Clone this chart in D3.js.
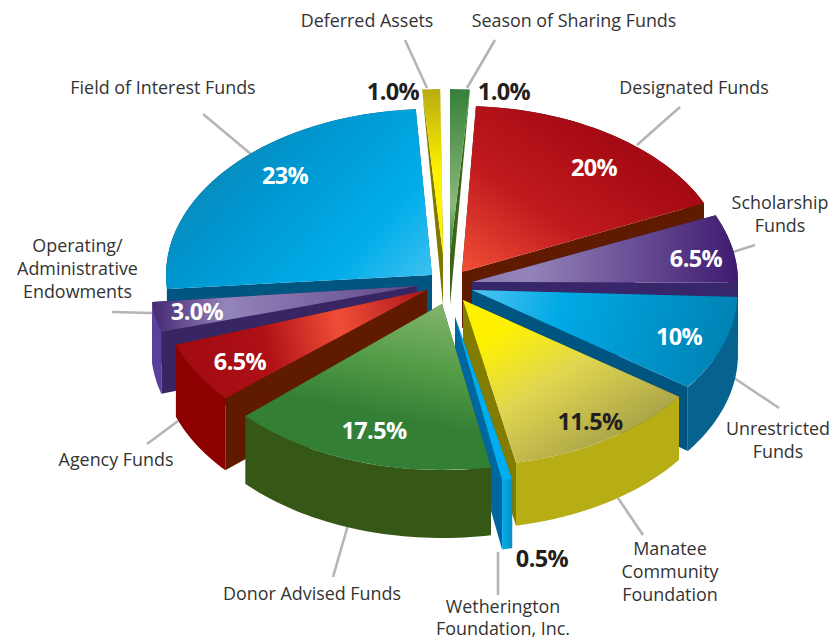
<!DOCTYPE html>
<html><head><meta charset="utf-8">
<style>html,body{margin:0;padding:0;background:#fff}svg{display:block}</style>
<script src="https://cdn.jsdelivr.net/npm/d3@7"></script>
</head><body>
<svg id="c" width="834" height="639"></svg>
<script>
// ---- data ----
const categories = ["Designated Funds","Scholarship Funds","Unrestricted Funds","Manatee Community Foundation","Wetherington Foundation, Inc.","Donor Advised Funds","Agency Funds","Operating/Administrative Endowments","Field of Interest Funds","Deferred Assets","Season of Sharing Funds"];
const values = [20,6.5,10,11.5,0.5,17.5,6.5,3,23,1,1];
const valueLabels = ["20%","6.5%","10%","11.5%","0.5%","17.5%","6.5%","3.0%","23%","1.0%","1.0%"];
const labelLines = [["Designated Funds"],["Scholarship","Funds"],["Unrestricted","Funds"],["Manatee","Community","Foundation"],["Wetherington","Foundation, Inc."],["Donor Advised Funds"],["Agency Funds"],["Operating/","Administrative","Endowments"],["Field of Interest Funds"],["Deferred Assets"],["Season of Sharing Funds"]];

// ---- layout (not data) ----
const W = 834, H = 639;
const rx = 266, ry = 166;
const apexX = [462,472,472,463,455,442,427,417,432,443,450];
const apexY = [272,282,290,300,317,304,290,286,275,255,255];
const wallDepth = [66,66,64,63,69,68,72,62,66,66,66];
// drawn (perspective-warped) sector limits, degrees clockwise from the top
const viewStartDeg = [3,66.3,92.4,125.7,167.6,169.4,229.3,254,265.2,355.5,360];
const viewEndDeg = [65.4,90.3,125.8,168.5,169.8,227.6,250.7,264.5,356.5,359.4,364.3];
const topGrad = [
 [0,1,.7,.3,[[0,"#f34f36"],[.5,"#c01a1e"],[1,"#a60a13"]]],
 [0,0,1,0,[[0,"#8b7cb2"],[.22,"#9383b9"],[1,"#3f1a70"]]],
 [0,0,1,.1,[[0,"#4ec4f0"],[.35,"#00a9e5"],[1,"#0083b5"]]],
 [.05,0,.75,.85,[[0,"#fff200"],[.2,"#fff200"],[.55,"#e0d650"],[1,"#aaa348"]]],
 [0,0,1,0,[[0,"#00aeef"],[1,"#00aeef"]]],
 [.95,0,.7,.85,[[0,"#88b870"],[.5,"#529b45"],[.85,"#337f36"],[1,"#337f36"]]],
 [0,.5,1,.4,[[0,"#a30a12"],[.35,"#ae1016"],[.66,"#f04e37"],[1,"#b31a1c"]]],
 [0,0,1,0,[[0,"#452872"],[.28,"#9384ba"],[1,"#5f4889"]]],
 [1,1,0,.35,[[0,"#46c3f2"],[.3,"#00ade9"],[.7,"#0096d0"],[1,"#0d85b0"]]],
 [0,0,0,1,[[0,"#b8ab10"],[.5,"#fff200"],[1,"#fff200"]]],
 [0,0,0,1,[[0,"#35803a"],[.7,"#8ab87a"],[1,"#2d7a3f"]]]
];
const faceColor = ["#5f1a00","#37266a","#005580","#827c00","#0067a0","#355816","#601a00","#372663","#005680","#7e7a00","#3c6516"];
const wallColor = ["#5f1a00","#37266a","#06638f","#b6ae14","#00a5e2","#355816","#8d0000","#5a3f9e","#005680","#7e7a00","#3c6516"];
const paintOrder = [9,10,8,0,1,2,7,6,3,4,5];
const labelPos = [[694,94],[780,209],[778,435],[670,555],[503,613],[312,600],[116,466],[77.5,252],[163,94],[367,27],[574,27]];
const lineGap = [23,23,23,23,22.4,23,23,23,23,23,23];
const valuePos = [[594,176],[696,267],[679,345],[590,430],[542,567],[374,439],[240,370],[197,320],[285,184],[393,100],[504,100]];
const valueColor = ["#fff","#fff","#fff","#231f20","#231f20","#fff","#fff","#fff","#fff","#231f20","#231f20"];
const leaders = [[[680,107],[637,145]],[[755,245],[733,252]],[[734,378],[779,408]],[[618,498],[643,535]],[[498,552],[498,595]],[[348,525],[333,577]],[[178,421],[147,444]],[[112,312],[152,313]],[[203,114],[252,155]],[[405,40],[427,88]],[[495,40],[467,88]]];

// ---- drawing ----
const svg = d3.select("#c");
const defs = svg.append("defs");
const pieData = d3.pie().sort(null).value(d=>d)(values);
const viewStart = d3.scaleLinear().domain(pieData.map(d=>d.startAngle)).range(viewStartDeg.map(d=>d*Math.PI/180));
const viewEnd = d3.scaleLinear().domain(pieData.map(d=>d.endAngle)).range(viewEndDeg.map(d=>d*Math.PI/180));
const depth = d3.scaleLinear().domain([89,255,300]).range([0,50/66,1]).clamp(true);
const arcGen = d3.arc().innerRadius(0).outerRadius(rx);
const line = d3.line();

const gLead = svg.append("g");
leaders.forEach(l=>gLead.append("path").attr("d",line(l)).attr("fill","none").attr("stroke","#b5b5b8").attr("stroke-width",2.6));

pieData.forEach((d,i)=>{
  const g = defs.append("linearGradient").attr("id","t"+i);
  const t = topGrad[i];
  g.attr("x1",t[0]).attr("y1",t[1]).attr("x2",t[2]).attr("y2",t[3]);
  t[4].forEach(s=>g.append("stop").attr("offset",s[0]).attr("stop-color",s[1]));
});
const wg = defs.append("linearGradient").attr("id","w4").attr("x1",0).attr("x2",1);
wg.append("stop").attr("offset",0).attr("stop-color","#00aeef");
wg.append("stop").attr("offset",1).attr("stop-color","#0a8cc4");

const gPie = svg.append("g");
paintOrder.forEach(i=>{
  const d = pieData[i];
  const a0 = viewStart(d.startAngle), a1 = viewEnd(d.endAngle);
  const ax = apexX[i], ay = apexY[i];
  const pt = a=>[ax+rx*Math.sin(a), ay-ry*Math.cos(a)];
  const down = p=>[p[0],p[1]+depth(p[1])*wallDepth[i]];
  const p0 = pt(a0), p1 = pt(a1), apex=[ax,ay];
  const g = gPie.append("g").attr("class","slice");
  // cut faces
  [p0,p1].forEach(p=>{
    g.append("path").attr("d",line([apex,p,down(p),down(apex)])+"Z").attr("fill",faceColor[i]);
  });
  // outer wall
  const steps = d3.range(0,41).map(k=>pt(a0+(a1-a0)*k/40));
  g.append("path").attr("d",line(steps.concat(steps.slice().reverse().map(down)))+"Z")
   .attr("fill", i===4?"url(#w4)":wallColor[i]);
  // top face
  g.append("path")
   .attr("d",arcGen({startAngle:a0,endAngle:a1}))
   .attr("transform",`translate(${ax},${ay}) scale(1,${ry/rx})`)
   .attr("fill",`url(#t${i})`);
});

const FONT = "'Open Sans', sans-serif";
const gText = svg.append("g").attr("text-anchor","middle").attr("font-family",FONT);
labelLines.forEach((ls,i)=>{
  ls.forEach((s,k)=>gText.append("text").attr("x",labelPos[i][0]).attr("y",labelPos[i][1]+k*lineGap[i])
    .attr("font-size",17.9).attr("fill","#333").text(s));
});
valueLabels.forEach((s,i)=>{
  gText.append("text").attr("x",valuePos[i][0]).attr("y",valuePos[i][1])
   .attr("font-size",23.5).attr("font-weight",700).attr("letter-spacing",-0.6).attr("fill",valueColor[i]).text(s);
});
</script>
</body></html>
